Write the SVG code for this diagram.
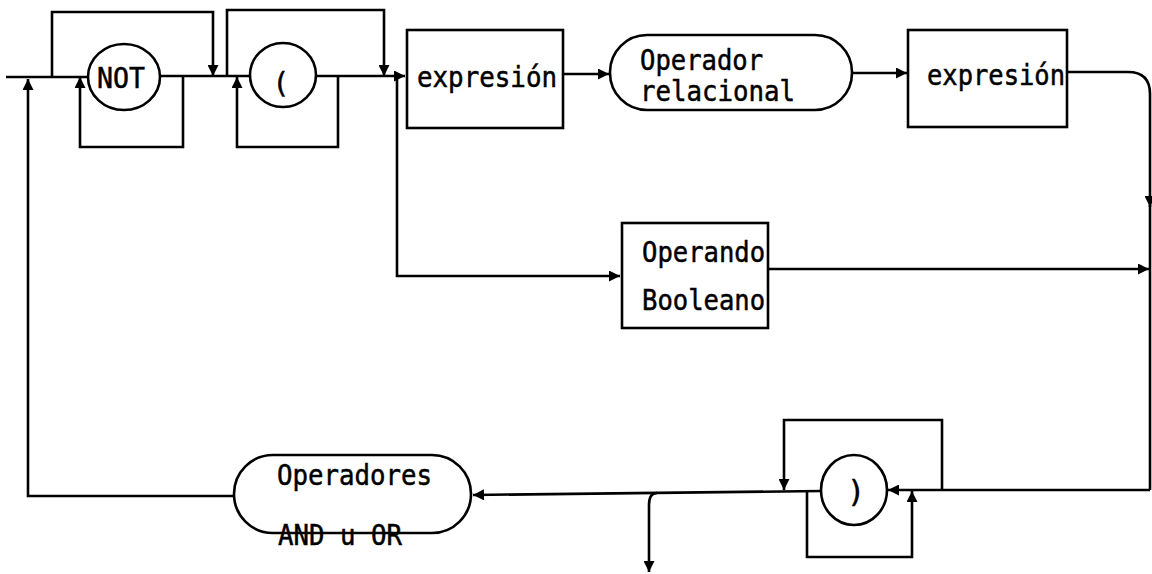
<svg xmlns="http://www.w3.org/2000/svg" width="1152" height="574" viewBox="0 0 1152 574">
<style>
.ln{fill:none;stroke:#000;stroke-width:2.6;stroke-linejoin:miter}
.nd{fill:#fff;stroke:#000;stroke-width:2.6}
.tx{font-family:"DejaVu Sans Mono","Liberation Mono",monospace;font-size:28px;fill:#000;stroke:#000;stroke-width:0.5}
</style>
<defs>
<marker id="ah" viewBox="0 0 10 10" refX="10" refY="5" markerWidth="12" markerHeight="11" markerUnits="userSpaceOnUse" orient="auto">
<path d="M0,0 L10,5 L0,10 z" fill="#000"/>
</marker>
</defs>
<rect width="1152" height="574" fill="#fff"/>
<g id="connectors">
<path class="ln" d="M6 77 H88"/>
<path class="ln" d="M160 76 H250"/>
<path class="ln" d="M316 76 H405" marker-end="url(#ah)"/>
<path class="ln" d="M52 76 V12 H213 V76" marker-end="url(#ah)"/>
<path class="ln" d="M183 76 V147 H80 V77" marker-end="url(#ah)"/>
<path class="ln" d="M227 76 V10 H384 V76" marker-end="url(#ah)"/>
<path class="ln" d="M338 76 V147 H237 V77" marker-end="url(#ah)"/>
<path class="ln" d="M397 76 V276 H620" marker-end="url(#ah)"/>
<path class="ln" d="M563 74 H609" marker-end="url(#ah)"/>
<path class="ln" d="M852 73 H907" marker-end="url(#ah)"/>
<path class="ln" d="M1067 72 H1128 Q1150 72 1150 94 V207" marker-end="url(#ah)"/>
<path class="ln" d="M1150 205 V490"/>
<path class="ln" d="M768 269 H1149" marker-end="url(#ah)"/>
<path class="ln" d="M1150 490 H888" marker-end="url(#ah)"/>
<path class="ln" d="M942 490 V420 H784 V490" marker-end="url(#ah)"/>
<path class="ln" d="M807 491 V557 H912 V491" marker-end="url(#ah)"/>
<path class="ln" d="M821 491 L473 495" marker-end="url(#ah)"/>
<path class="ln" d="M657 493 Q649 493 649 505 V572" marker-end="url(#ah)"/>
<path class="ln" d="M234 496 H28 V79" marker-end="url(#ah)"/>
</g>
<g id="not">
<ellipse class="nd" cx="124" cy="77" rx="36" ry="33"/>
<text class="tx" x="97" y="88" textLength="48" lengthAdjust="spacingAndGlyphs">NOT</text>
</g>
<g id="paren-open">
<ellipse class="nd" cx="283" cy="75" rx="33" ry="32"/>
<text class="tx" x="281" y="93" text-anchor="middle" style="font-size:28px">(</text>
</g>
<g id="expresion1">
<rect class="nd" x="407" y="30" width="156" height="98"/>
<text class="tx" x="417" y="87" textLength="140" lengthAdjust="spacingAndGlyphs">expresión</text>
</g>
<g id="operador-relacional">
<rect class="nd" x="610" y="35" width="242" height="75" rx="37" ry="37"/>
<text class="tx" x="640" y="70" textLength="123" lengthAdjust="spacingAndGlyphs">Operador</text>
<text class="tx" x="640" y="101" textLength="155" lengthAdjust="spacingAndGlyphs">relacional</text>
</g>
<g id="expresion2">
<rect class="nd" x="908" y="30" width="159" height="97"/>
<text class="tx" x="927" y="85" textLength="138" lengthAdjust="spacingAndGlyphs">expresión</text>
</g>
<g id="operando-booleano">
<rect class="nd" x="622" y="223" width="146" height="105"/>
<text class="tx" x="642" y="262" textLength="123" lengthAdjust="spacingAndGlyphs">Operando</text>
<text class="tx" x="642" y="310" textLength="123" lengthAdjust="spacingAndGlyphs">Booleano</text>
</g>
<g id="paren-close">
<ellipse class="nd" cx="854" cy="490" rx="33" ry="35"/>
<text class="tx" x="856" y="502" text-anchor="middle" style="font-size:30px">)</text>
</g>
<g id="operadores">
<rect class="nd" x="234" y="455" width="237" height="78" rx="39" ry="39"/>
<text class="tx" x="277" y="485" textLength="155" lengthAdjust="spacingAndGlyphs">Operadores</text>
<text class="tx" x="278" y="545" textLength="124" lengthAdjust="spacingAndGlyphs">AND u OR</text>
</g>
</svg>
